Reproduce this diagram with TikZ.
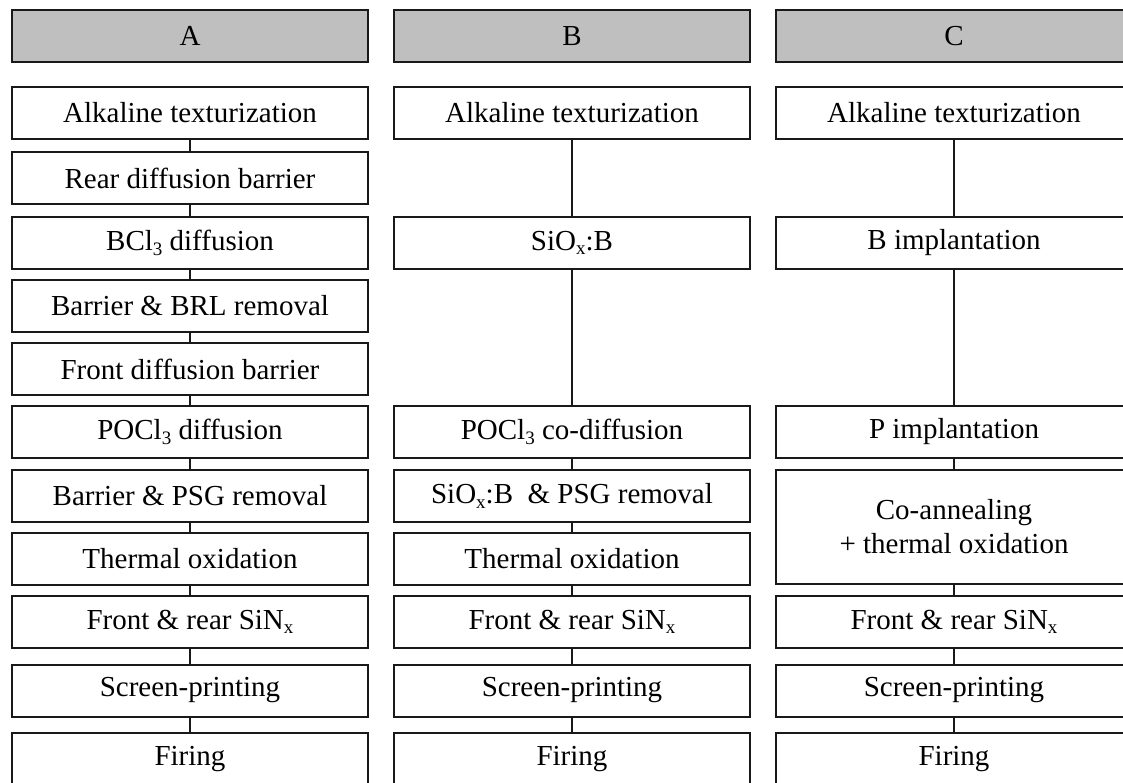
\documentclass[tikz,border=0pt]{standalone}
\usepackage{fontspec}
\setmainfont{Liberation Serif}
\usetikzlibrary{positioning}
\newcommand{\lowsub}[1]{\raisebox{-0.32ex}{\fontsize{19}{20}\selectfont #1}}
\tikzstyle{processbox}=[rectangle,draw=black!90,fill=white,line width=2pt,minimum width=356pt,minimum height=52pt,inner sep=0pt,font=\fontsize{29}{34}\selectfont]
\tikzstyle{headerbox}=[processbox,fill=black!25]
\tikzstyle{tallbox}=[processbox,minimum height=114pt,align=center]
\tikzstyle{undirectededge} = [draw,line width=2pt,black!90]

\begin{document}
\begin{tikzpicture}[x=1pt,y=-1pt]
    \useasboundingbox (0,0) rectangle (1123,783);
    \clip (0,0) rectangle (1123,783);
    % Column headers
    \foreach \pos/\name/\label in {{(190,36)/HA/A}, {(572,36)/HB/B}, {(954,36)/HC/C}}
        \node[headerbox] (\name) at \pos {\label};

    % Route A
    \foreach \pos/\name/\label in {{(190,113)/A1/Alkaline texturization}, {(190,178.5)/A2/Rear diffusion barrier},
        {(190,243)/A3/BCl\lowsub{3} diffusion}, {(190,306)/A4/Barrier \& BRL removal},
        {(190,369)/A5/Front diffusion barrier}, {(190,432)/A6/POCl\lowsub{3} diffusion},
        {(190,496)/A7/Barrier \& PSG removal}, {(190,558.5)/A8/Thermal oxidation},
        {(190,622)/A9/Front \& rear SiN\lowsub{x}}, {(190,690.5)/A10/Screen-printing},
        {(190,759)/A11/Firing}}
        \node[processbox] (\name) at \pos {\label};

    % Route B
    \foreach \pos/\name/\label in {{(572,113)/B1/Alkaline texturization}, {(572,243)/B2/SiO\lowsub{x}:B},
        {(572,432)/B3/POCl\lowsub{3} co-diffusion}, {(572,496)/B4/SiO\lowsub{x}:B \ \& PSG removal},
        {(572,558.5)/B5/Thermal oxidation}, {(572,622)/B6/Front \& rear SiN\lowsub{x}},
        {(572,690.5)/B7/Screen-printing}, {(572,759)/B8/Firing}}
        \node[processbox] (\name) at \pos {\label};

    % Route C
    \foreach \pos/\name/\label in {{(954,113)/C1/Alkaline texturization}, {(954,243)/C2/B implantation},
        {(954,432)/C3/P implantation}, {(954,622)/C5/Front \& rear SiN\lowsub{x}},
        {(954,690.5)/C6/Screen-printing}, {(954,759)/C7/Firing}}
        \node[processbox] (\name) at \pos {\label};
    \node[tallbox] (C4) at (954,527) {Co-annealing\\+ thermal oxidation};

    % Connect the steps
    \foreach \source/ \dest in {A1/A2, A2/A3, A3/A4, A4/A5, A5/A6, A6/A7, A7/A8, A8/A9, A9/A10, A10/A11,
        B1/B2, B2/B3, B3/B4, B4/B5, B5/B6, B6/B7, B7/B8,
        C1/C2, C2/C3, C3/C4, C4/C5, C5/C6, C6/C7}
          \path[undirectededge] (\source) -- (\dest);

\end{tikzpicture}
\end{document}
